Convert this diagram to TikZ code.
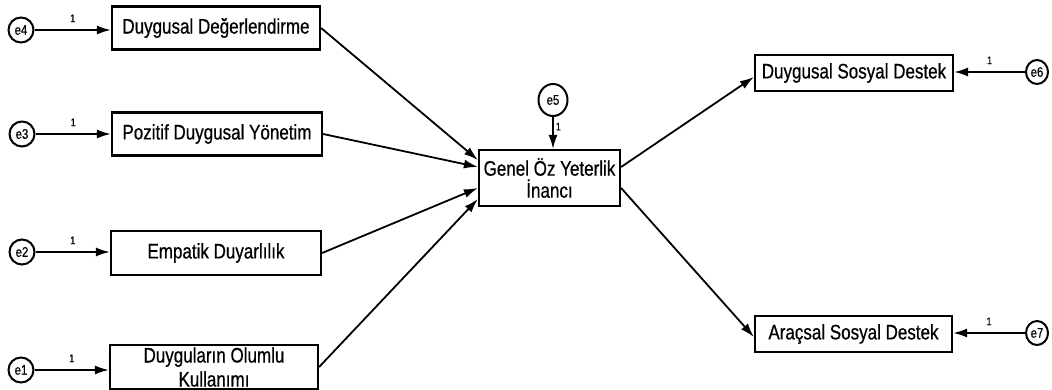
\documentclass[tikz,border=0pt]{standalone}
\usepackage{fontspec}
\setmainfont{Liberation Sans}
\newfontfamily\boxfont[FakeStretch=0.81,FakeBold=0.6]{Liberation Sans}
\usetikzlibrary{arrows.meta,shapes.geometric}

\begin{document}
\begin{tikzpicture}[x=1pt,y=-1pt,
  var/.style={draw,line width=2.2pt,rectangle,inner sep=0pt,align=center,
              font=\boxfont\fontsize{21}{24}\selectfont},
  err/.style={draw,line width=2pt,ellipse,inner sep=0pt,
              minimum width=25pt,minimum height=25pt,
              font=\boxfont\fontsize{14}{14}\selectfont},
  reg/.style={line width=1.8pt,-{Latex[length=14pt,width=9pt]}},
  one/.style={font=\boxfont\fontsize{11}{11}\selectfont,inner sep=1pt}]

\useasboundingbox (0,0) rectangle (1052,390);

% observed variables
\node[var,minimum width=208pt,minimum height=43pt] (dd)  at (216,28)    {Duygusal Değerlendirme};
\node[var,minimum width=210pt,minimum height=43pt] (pdy) at (217,134)   {Pozitif Duygusal Yönetim};
\node[var,minimum width=210pt,minimum height=44pt] (ed)  at (216,253)   {Empatik Duyarlılık};
\node[var,minimum width=208pt,minimum height=44pt] (dok) at (214,367)   {Duyguların Olumlu\\Kullanımı};
\node[var,minimum width=141pt,minimum height=56pt,font=\boxfont\fontsize{21}{22}\selectfont]
     (gen) at (549.5,178) {Genel Öz Yeterlik\\İnancı};
\node[var,minimum width=198pt,minimum height=36pt] (dsd) at (854,73)    {Duygusal Sosyal Destek};
\node[var,minimum width=197pt,minimum height=36pt] (asd) at (853.5,334) {Araçsal Sosyal Destek};

% error terms
\node[err] (e4) at (21,30)  {e4};
\node[err] (e3) at (22,134) {e3};
\node[err] (e2) at (22,252) {e2};
\node[err] (e1) at (21,370) {e1};
\node[err,minimum width=29pt,minimum height=32pt] (e5) at (553,100) {e5};
\node[err,minimum width=22pt,minimum height=24pt] (e6) at (1037,72)  {e6};
\node[err,minimum width=22pt,minimum height=24pt] (e7) at (1037,333) {e7};

% error paths
\draw[reg] (e4.east) -- (e4.east -| dd.west)  node[midway,above=6pt,one] {1};
\draw[reg] (e3.east) -- (e3.east -| pdy.west) node[midway,above=6pt,one] {1};
\draw[reg] (e2.east) -- (e2.east -| ed.west)  node[midway,above=6pt,one] {1};
\draw[reg] (e1.east) -- (e1.east -| dok.west) node[midway,above=6pt,one] {1};
\draw[reg] (e5.south) -- (e5.south |- gen.north) node[pos=0.3,right=1pt,one] {1};
\draw[reg] (e6.west) -- (e6.west -| dsd.east) node[midway,above=6pt,one] {1};
\draw[reg] (e7.west) -- (e7.west -| asd.east) node[midway,above=6pt,one] {1};

% structural paths
\draw[reg] (dd.east)  -- ([yshift=18pt]gen.west);
\draw[reg] (pdy.east) -- ([yshift=11pt]gen.west);
\draw[reg] (ed.east)  -- ([yshift=-10pt]gen.west);
\draw[reg] (dok.east) -- ([yshift=-21pt]gen.west);
\draw[reg] ([yshift=11pt]gen.east)  -- ([yshift=-4pt]dsd.west);
\draw[reg] ([yshift=-10pt]gen.east) -- ([yshift=-3pt]asd.west);

\end{tikzpicture}
\end{document}
